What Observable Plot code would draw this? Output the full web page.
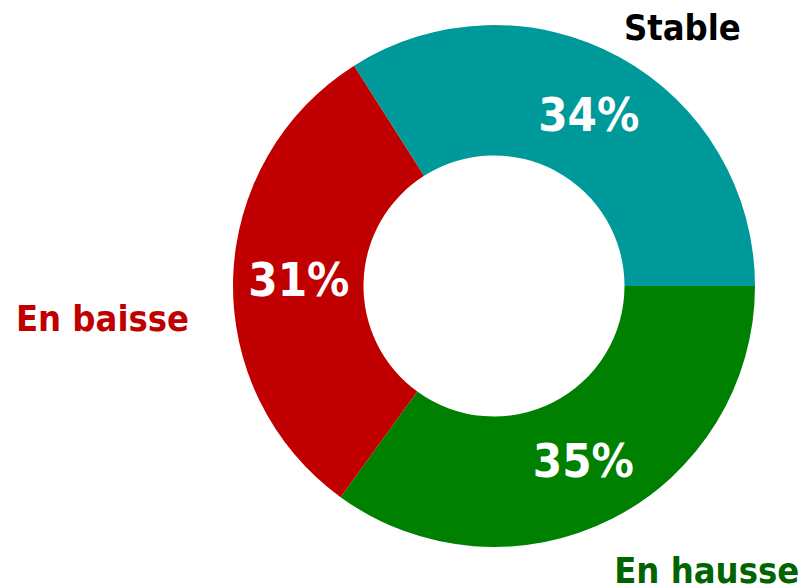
<!DOCTYPE html>
<html>
<head>
<meta charset="utf-8">
<script src="https://cdn.jsdelivr.net/npm/d3@7"></script>
<script src="https://cdn.jsdelivr.net/npm/@observablehq/plot@0.6"></script>
<style>
  html, body { margin: 0; padding: 0; background: #ffffff; }
  #chart svg { display: block; font-family: "DejaVu Sans Condensed", "DejaVu Sans", Verdana, sans-serif; }
</style>
</head>
<body>
<div id="chart"></div>
<script>
// ---- Data ----
const categories = ["En hausse", "En baisse", "Stable"];
const values = [35, 31, 34];
const percentLabels = ["35%", "31%", "34%"];
const sliceColors = ["#008000", "#C00000", "#009999"];
const labelColors = ["#006400", "#C00000", "#000000"];

// ---- Layout (not data) ----
const innerRatio = 0.5;           // inner radius / outer radius
const startAngle = Math.PI / 2;   // first slice starts at 3 o'clock, clockwise
const labelNudges = [[70, 6], [-79, 43], [37, 16]]; // pixel nudges for outer labels
const fontFam = "DejaVu Sans Condensed";

const table = categories.map((c, i) => ({category: c, value: values[i], pct: percentLabels[i], color: sliceColors[i], labelColor: labelColors[i]}));
const arcs = d3.pie().sort(null).value(d => d.value).startAngle(startAngle).endAngle(startAngle + 2 * Math.PI)(table);

// centroid positions in data units (y up)
const midR = (innerRatio + 1) / 2;
const slices = arcs.map(a => {
  const m = (a.startAngle + a.endAngle) / 2;
  return {...a.data, start: a.startAngle, end: a.endAngle,
    cx: midR * Math.sin(m), cy: midR * Math.cos(m),
    lx: 1.2 * Math.sin(m), ly: 1.2 * Math.cos(m)};
});

function donut(index, scales, channels, dimensions) {
  const x = scales.x, y = scales.y;
  const cx = x(0), cy = y(0);
  const R = x(1) - x(0);
  const arc = d3.arc().innerRadius(R * innerRatio).outerRadius(R);
  const g = d3.create("svg:g").attr("transform", `translate(${cx},${cy})`);
  g.selectAll("path").data(slices).join("path")
    .attr("d", d => arc({startAngle: d.start, endAngle: d.end}))
    .attr("fill", d => d.color);
  return g.node();
}

const chart = Plot.plot({
  width: 805,
  height: 588,
  marginLeft: 233,
  marginRight: 50,
  marginTop: 25,
  marginBottom: 41,
  x: {domain: [-1, 1], axis: null},
  y: {domain: [-1, 1], axis: null},
  marks: [
    donut,
    Plot.text(slices, {x: "cx", y: "cy", text: "pct", fill: "white", fontSize: 47, fontWeight: "bold", fontFamily: fontFam, dy: 1}),
    ...slices.map((s, i) => Plot.text([s], {x: "lx", y: "ly", text: "category", fill: s.labelColor, fontSize: 36, fontWeight: "bold", fontFamily: fontFam, dx: labelNudges[i][0], dy: labelNudges[i][1]}))
  ]
});
document.getElementById("chart").appendChild(chart);
</script>
</body>
</html>
